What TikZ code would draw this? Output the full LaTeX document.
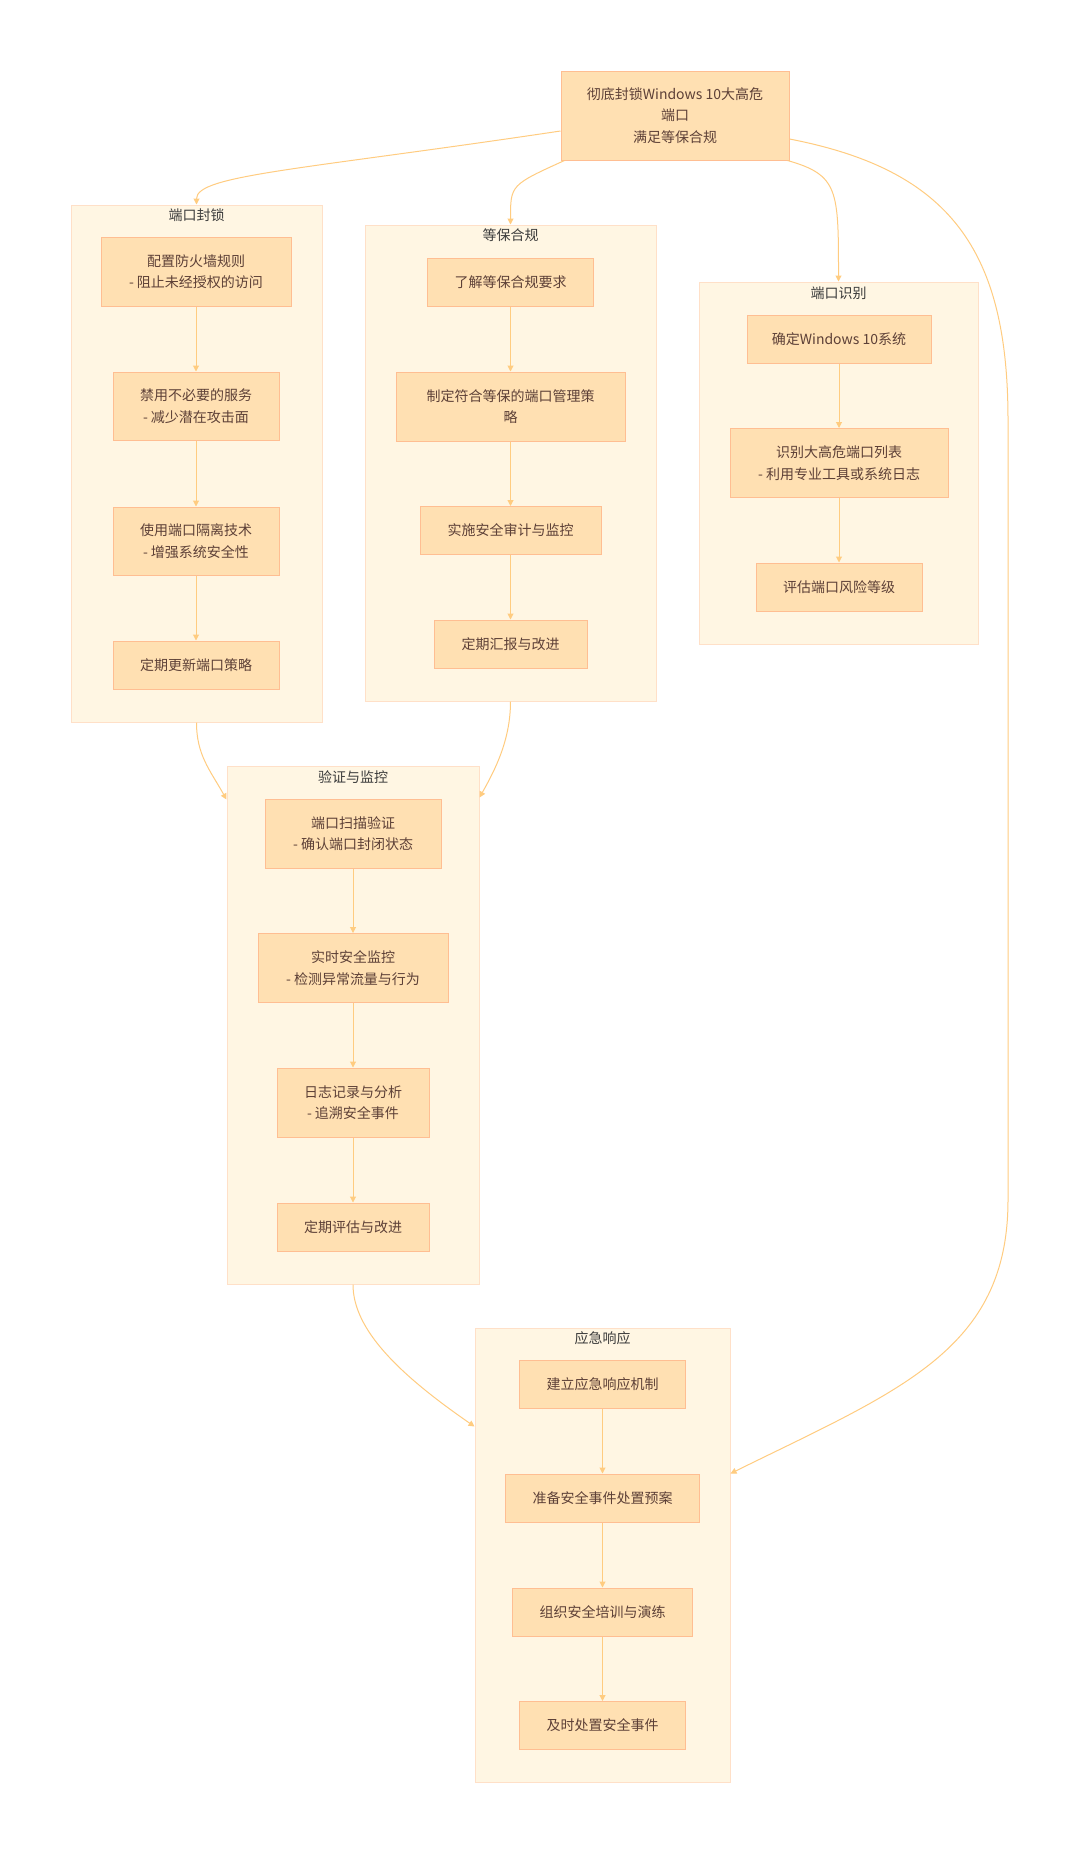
\documentclass[tikz,border=0pt]{standalone}
\usepackage{fontspec}
\setmainfont{Noto Sans CJK SC}
\usetikzlibrary{arrows.meta}
\definecolor{nodefill}{HTML}{FFE0B2}
\definecolor{nodeline}{HTML}{FFBE92}
\definecolor{clusterfill}{HTML}{FFF6E3}
\definecolor{clusterline}{HTML}{FFE0C8}
\definecolor{edgecol}{HTML}{FFCC80}
\definecolor{nodetext}{HTML}{5D4037}
\definecolor{titletext}{HTML}{3C3C3C}
\begin{document}
\begin{tikzpicture}[x=1pt,y=-1pt,
  every node/.style={font=\fontsize{14}{21.5}\selectfont},
  box/.style={draw=nodeline, fill=nodefill, line width=1pt, text=nodetext, align=center, inner sep=0pt},
  cluster/.style={draw=clusterline, fill=clusterfill, line width=1pt, inner sep=0pt},
  ctitle/.style={text=titletext, inner sep=0pt},
  link/.style={draw=edgecol, line width=1pt, -{Triangle[width=6pt,length=6pt]}},
]
\useasboundingbox[fill=white] (0,0) rectangle (1080,1853);

% clusters
\node[cluster, minimum width=251pt, minimum height=517pt] (A) at (196.5,463.5) {};
\node[cluster, minimum width=291pt, minimum height=476pt] (B) at (510.5,463) {};
\node[cluster, minimum width=279pt, minimum height=362pt] (C) at (838.5,463) {};
\node[cluster, minimum width=252pt, minimum height=518pt] (D) at (353,1025) {};
\node[cluster, minimum width=255pt, minimum height=454pt] (E) at (602.5,1555) {};

\node[ctitle] (At) at (196.5,215) {端口封锁};
\node[ctitle] (Bt) at (510.5,235) {等保合规};
\node[ctitle] (Ct) at (838.5,293) {端口识别};
\node[ctitle] (Dt) at (353,777) {验证与监控};
\node[ctitle] (Et) at (602.5,1338) {应急响应};

% top node
\node[box, minimum width=228pt, minimum height=89pt] (T) at (675,115.5) {彻底封锁Windows 10大高危\\端口\\满足等保合规};

% cluster A
\node[box, minimum width=190pt, minimum height=69pt] (A1) at (196,271.5) {配置防火墙规则\\- 阻止未经授权的访问};
\node[box, minimum width=166pt, minimum height=68pt] (A2) at (196,406) {禁用不必要的服务\\- 减少潜在攻击面};
\node[box, minimum width=166pt, minimum height=68pt] (A3) at (196,541) {使用端口隔离技术\\- 增强系统安全性};
\node[box, minimum width=166pt, minimum height=48pt] (A4) at (196,665) {定期更新端口策略};

% cluster B
\node[box, minimum width=166pt, minimum height=48pt] (B1) at (510.5,282) {了解等保合规要求};
\node[box, minimum width=229pt, minimum height=69pt] (B2) at (510.5,406.5) {制定符合等保的端口管理策\\略};
\node[box, minimum width=181pt, minimum height=48pt] (B3) at (510.5,530.5) {实施安全审计与监控};
\node[box, minimum width=153pt, minimum height=48pt] (B4) at (510.5,644) {定期汇报与改进};

% cluster C
\node[box, minimum width=184pt, minimum height=48pt] (C1) at (839,339) {确定Windows 10系统};
\node[box, minimum width=218pt, minimum height=69pt] (C2) at (839,463) {识别大高危端口列表\\- 利用专业工具或系统日志};
\node[box, minimum width=166pt, minimum height=48pt] (C3) at (839,587) {评估端口风险等级};

% cluster D
\node[box, minimum width=176pt, minimum height=69pt] (D1) at (353,833.5) {端口扫描验证\\- 确认端口封闭状态};
\node[box, minimum width=190pt, minimum height=69pt] (D2) at (353,968) {实时安全监控\\- 检测异常流量与行为};
\node[box, minimum width=152pt, minimum height=69pt] (D3) at (353,1102.5) {日志记录与分析\\- 追溯安全事件};
\node[box, minimum width=152pt, minimum height=48pt] (D4) at (353,1227) {定期评估与改进};

% cluster E
\node[box, minimum width=166pt, minimum height=48pt] (E1) at (602.5,1384.5) {建立应急响应机制};
\node[box, minimum width=194pt, minimum height=48pt] (E2) at (602.5,1498) {准备安全事件处置预案};
\node[box, minimum width=180pt, minimum height=48pt] (E3) at (602.5,1612) {组织安全培训与演练};
\node[box, minimum width=166pt, minimum height=48pt] (E4) at (602.5,1725.5) {及时处置安全事件};

% inner edges
\draw[link] (A1) -- (A2);
\draw[link] (A2) -- (A3);
\draw[link] (A3) -- (A4);
\draw[link] (B1) -- (B2);
\draw[link] (B2) -- (B3);
\draw[link] (B3) -- (B4);
\draw[link] (C1) -- (C2);
\draw[link] (C2) -- (C3);
\draw[link] (D1) -- (D2);
\draw[link] (D2) -- (D3);
\draw[link] (D3) -- (D4);
\draw[link] (E1) -- (E2);
\draw[link] (E2) -- (E3);
\draw[link] (E3) -- (E4);

% cluster edges
\draw[link] ([yshift=-15.5pt]T.west) .. controls (300,170) and (196.5,175) .. (A.north);
\draw[link] ([xshift=4pt]T.south west) .. controls (510.5,185) and (510.5,185) .. (B.north);
\draw[link] ([xshift=-2pt]T.south east) .. controls (838.5,175) and (838.5,190) .. (C.north);
\draw[link] ([yshift=-23.5pt]T.east) .. controls (950,170) and (1008,250) .. (1008,420) -- (1008,1200) .. controls (1008,1350) and (900,1390) .. ([yshift=-146pt]E.north east);
\draw[link] (A.south) .. controls (196.5,755) and (210,770) .. ([yshift=-34pt]D.north west);
\draw[link] (B.south) .. controls (510.5,740) and (495,770) .. ([yshift=-32pt]D.north east);
\draw[link] (D.south) .. controls (353,1330) and (400,1375) .. ([yshift=-99pt]E.north west);
\end{tikzpicture}
\end{document}
